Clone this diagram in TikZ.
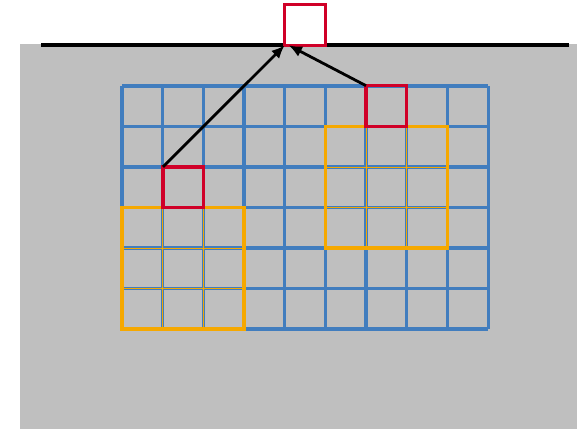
\documentclass[tikz,border=0pt]{standalone}
\usetikzlibrary{arrows.meta}
\definecolor{gbg}{RGB}{191,191,191}
\definecolor{gblue}{RGB}{65,125,190}
\definecolor{gorange}{RGB}{245,168,0}
\definecolor{gred}{RGB}{208,0,40}
\tikzset{
  redbox/.style={draw=gred,line width=2.4pt,minimum size=30.45pt,inner sep=0pt,outer sep=0pt},
  orangebox/.style={draw=gorange,line width=2.5pt,minimum size=91.4pt,inner sep=0pt,outer sep=0pt},
  arr/.style={draw=black,line width=2.1pt,-{Latex[length=10pt,width=8.5pt]}},
}
\begin{document}
\begin{tikzpicture}[x=0.75pt,y=-0.75pt]
\useasboundingbox (0,0) rectangle (577,429);
\fill[gbg] (20,44) rectangle (577,429);
\draw[black,line width=2.4pt] (41,45) -- (569,45);
% grid
\foreach \i in {0,...,9} \draw[gblue,line width=2.3pt] ({122+\i*40.67},86) -- ({122+\i*40.67},329);
\foreach \j in {0,...,6} \draw[gblue,line width=2.3pt] (122,{86+\j*40.5}) -- (488,{86+\j*40.5});
% orange interior thin lines
\foreach \i in {1,2} {
  \draw[gorange,line width=0.5pt] ({122+\i*40.67},207.5) -- ({122+\i*40.67},329);
  \draw[gorange,line width=0.5pt] ({325.3+\i*40.67},126.5) -- ({325.3+\i*40.67},248);
  \draw[gorange,line width=0.5pt] (122,{207.5+\i*40.5}) -- (244,{207.5+\i*40.5});
  \draw[gorange,line width=0.5pt] (325.3,{126.5+\i*40.5}) -- (447.3,{126.5+\i*40.5});
}
\node[orangebox] (o1) at (183,268.2) {};
\node[orangebox] (o2) at (386.3,187.2) {};
\node[redbox] (r1) at (183.3,187.2) {};
\node[redbox] (r2) at (386.3,106) {};
\node[redbox,fill=white] (top) at (305,25) {};
\draw[arr] (r1.north west) -- (top.south west);
\draw[arr] (r2.north west) -- ([xshift=3pt]top.south west);
\end{tikzpicture}
\end{document}
